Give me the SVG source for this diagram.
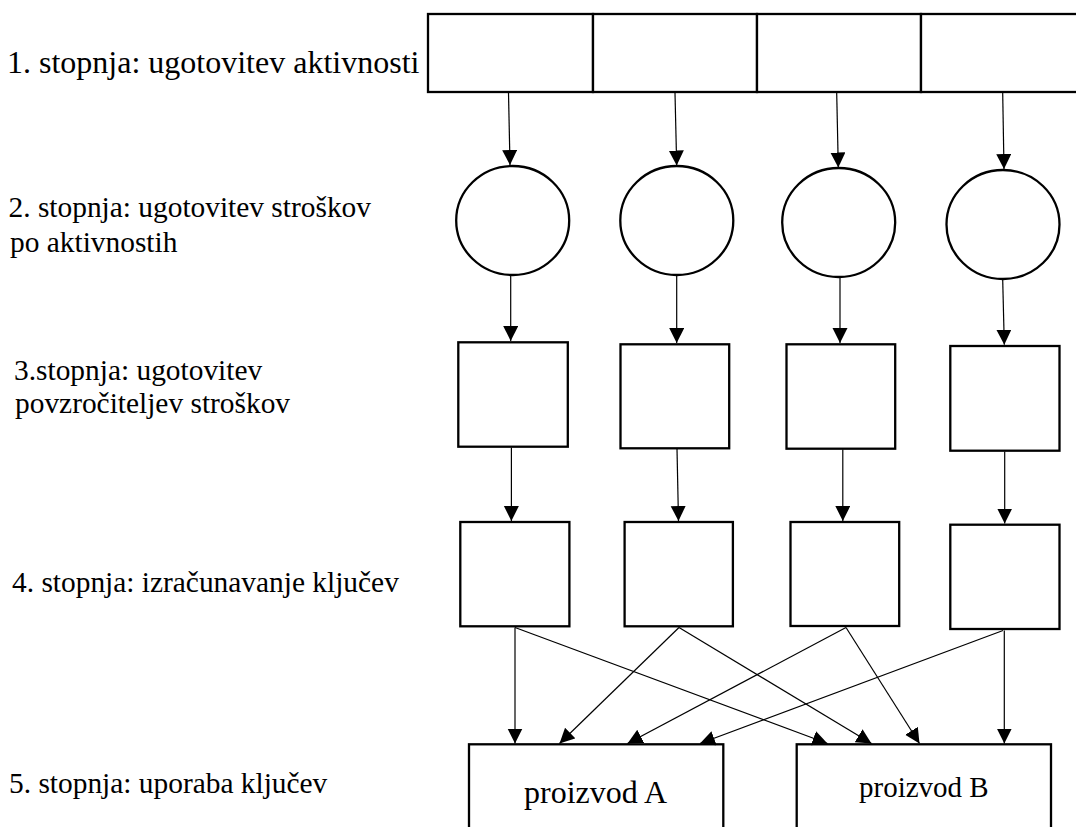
<svg xmlns="http://www.w3.org/2000/svg" width="1076" height="827" viewBox="0 0 1076 827" font-family="'Liberation Serif', 'Times New Roman', 'DejaVu Serif', serif">
<style>
.n{fill:#fff;stroke:#000;stroke-width:2.3}
.c line{stroke:#000;stroke-width:1.2;marker-end:url(#ah)}
.l{font-size:29.4px}
</style>
<defs>
<marker id="ah" markerUnits="userSpaceOnUse" markerWidth="16" markerHeight="16" refX="15" refY="7.5" orient="auto" viewBox="0 0 16 16">
<path d="M0,0 L15,7.5 L0,15 z" fill="#000"/>
</marker>
</defs>
<rect width="1076" height="827" fill="#fff"/>
<g id="labels" font-family="'Liberation Serif', 'Times New Roman', 'DejaVu Serif', serif" fill="#000">
<text x="7" y="73" font-size="32">1. stopnja: ugotovitev aktivnosti</text>
<text class="l" x="8.5" y="217">2. stopnja: ugotovitev stroškov</text>
<text class="l" x="10" y="252">po aktivnostih</text>
<text class="l" x="14" y="380">3.stopnja: ugotovitev</text>
<text class="l" x="15" y="413">povzročiteljev stroškov</text>
<text class="l" x="12" y="592">4. stopnja: izračunavanje ključev</text>
<text class="l" x="9" y="793">5. stopnja: uporaba ključev</text>
</g>
<g id="activities">
<rect class="n" x="428" y="14" width="165" height="78"/>
<rect class="n" x="593" y="14" width="164" height="78"/>
<rect class="n" x="757" y="14" width="164" height="78"/>
<rect class="n" x="921" y="14" width="164" height="78"/>
</g>
<g id="costs">
<ellipse class="n" cx="512.7" cy="220.5" rx="56.5" ry="54.5"/>
<ellipse class="n" cx="676.8" cy="220.5" rx="56.5" ry="54.5"/>
<ellipse class="n" cx="838.7" cy="222.5" rx="56.5" ry="54.5"/>
<ellipse class="n" cx="1003" cy="224.5" rx="56.5" ry="54.5"/>
</g>
<g id="drivers">
<rect class="n" x="458.3" y="342.3" width="109.5" height="104.4"/>
<rect class="n" x="620.5" y="344.3" width="108.7" height="104"/>
<rect class="n" x="786.5" y="344.3" width="108.7" height="104.4"/>
<rect class="n" x="950.3" y="346" width="109.2" height="104.7"/>
</g>
<g id="keys">
<rect class="n" x="460.3" y="522" width="109.1" height="104.3"/>
<rect class="n" x="624.6" y="522" width="108.3" height="104.3"/>
<rect class="n" x="790.5" y="522" width="108.7" height="104"/>
<rect class="n" x="950.3" y="524.7" width="109.2" height="104.3"/>
</g>
<g id="productA">
<rect class="n" x="469" y="744.3" width="254.3" height="100"/>
<text x="524" y="803" font-size="32" font-family="'Liberation Serif', 'Times New Roman', 'DejaVu Serif', serif" fill="#000">proizvod A</text>
</g>
<g id="productB">
<rect class="n" x="796.7" y="744.3" width="254.3" height="100"/>
<text x="859" y="797" font-size="29" font-family="'Liberation Serif', 'Times New Roman', 'DejaVu Serif', serif" fill="#000">proizvod B</text>
</g>
<g id="connectors" class="c">
<line x1="508.5" y1="93" x2="510" y2="165"/>
<line x1="675" y1="93" x2="676.7" y2="165.5"/>
<line x1="836.7" y1="93" x2="838.3" y2="167.5"/>
<line x1="1002.7" y1="93" x2="1004" y2="169"/>
<line x1="510.7" y1="275.5" x2="510.7" y2="341"/>
<line x1="676.7" y1="276" x2="676.7" y2="343"/>
<line x1="840" y1="277.5" x2="840" y2="343"/>
<line x1="1002.7" y1="279.5" x2="1004.3" y2="344.7"/>
<line x1="511.4" y1="447.5" x2="511.4" y2="521"/>
<line x1="677" y1="449" x2="678.5" y2="521"/>
<line x1="842.8" y1="449.5" x2="842.8" y2="521"/>
<line x1="1004.7" y1="451.5" x2="1004.7" y2="523.5"/>
<line x1="515" y1="627.5" x2="515" y2="743.5"/>
<line x1="515" y1="627.5" x2="827.5" y2="743.5"/>
<line x1="679" y1="627.5" x2="559.5" y2="743.5"/>
<line x1="679" y1="627.5" x2="871.5" y2="743.5"/>
<line x1="846" y1="627.5" x2="627.5" y2="743.5"/>
<line x1="846" y1="627.5" x2="919.5" y2="743.5"/>
<line x1="1003" y1="630.5" x2="700" y2="743.5"/>
<line x1="1004.3" y1="630.5" x2="1004.3" y2="743.5"/>
</g>
</svg>
